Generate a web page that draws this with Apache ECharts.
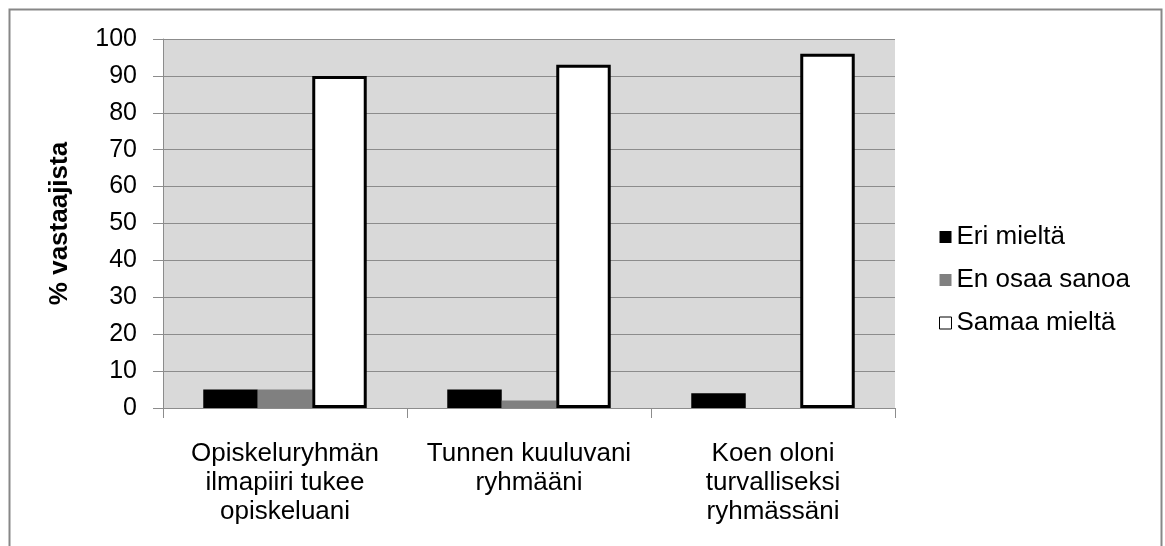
<!DOCTYPE html>
<html>
<head>
<meta charset="utf-8">
<script src="https://cdn.jsdelivr.net/npm/echarts@6/dist/echarts.min.js"></script>
<style>
  html, body { margin: 0; padding: 0; background: #fff; }
  #chart { width: 1165px; height: 546px; }
</style>
</head>
<body>
<div id="chart"></div>
<script>
// kategoriat ja sarjat
let categories = ['Opiskeluryhmän\nilmapiiri tukee\nopiskeluani', 'Tunnen kuuluvani\nryhmääni', 'Koen oloni\nturvalliseksi\nryhmässäni'];
let seriesNames = ['Eri mieltä', 'En osaa sanoa', 'Samaa mieltä'];
let eriMielta = [5, 5, 4];
let enOsaaSanoa = [5, 2, 0];
let samaaMielta = [90, 93, 96];

let fontFamily = '"Liberation Sans", Arial, sans-serif';

let chart = echarts.init(document.getElementById('chart'));

function makeBar(name, data, style) {
    return {
        type: 'bar',
        name: name,
        data: data,
        barGap: '0%',
        barCategoryGap: '33%',
        itemStyle: style
    };
}

let option = {
    animation: false,
    textStyle: {fontFamily: fontFamily},
    graphic: [{
        type: 'rect',
        shape: {x: 9.5, y: 9.5, width: 1152, height: 545},
        style: {fill: 'none', stroke: '#878787', lineWidth: 2}
    }],
    grid: {
        left: 163,
        top: 39,
        right: 270,
        bottom: 138,
        show: true,
        backgroundColor: '#d9d9d9',
        borderWidth: 0
    },
    legend: {
        orient: 'vertical',
        left: 939,
        top: 224,
        padding: 0,
        itemWidth: 12,
        itemHeight: 12,
        itemGap: 17,
        icon: 'rect',
        textStyle: {fontSize: 26, color: '#000', fontFamily: fontFamily},
        data: [
            {name: 'Eri mieltä'},
            {name: 'En osaa sanoa'},
            {name: 'Samaa mieltä', itemStyle: {borderWidth: 1, borderColor: '#000'}}
        ]
    },
    xAxis: {
        type: 'category',
        data: categories,
        axisLine: {lineStyle: {color: '#8c8c8c', width: 1}},
        axisTick: {show: true, length: 10, lineStyle: {color: '#8c8c8c'}},
        axisLabel: {
            fontSize: 26,
            color: '#000',
            lineHeight: 29,
            margin: 31,
            interval: 0,
            fontFamily: fontFamily
        }
    },
    yAxis: {
        type: 'value',
        min: 0,
        max: 100,
        interval: 10,
        name: '% vastaajista',
        nameLocation: 'middle',
        nameGap: 90,
        nameTextStyle: {fontSize: 26, fontWeight: 'bold', color: '#000', fontFamily: fontFamily},
        axisLine: {show: true, lineStyle: {color: '#8c8c8c', width: 1}},
        axisTick: {show: true, length: 10, lineStyle: {color: '#8c8c8c'}},
        axisLabel: {fontSize: 25, color: '#000', margin: 26, fontFamily: fontFamily},
        splitLine: {show: true, lineStyle: {color: '#8c8c8c', width: 1}}
    },
    series: [
        makeBar(seriesNames[0], eriMielta, {color: '#000000'}),
        makeBar(seriesNames[1], enOsaaSanoa, {color: '#808080'}),
        makeBar(seriesNames[2], samaaMielta, {color: '#ffffff', borderColor: '#000000', borderWidth: 3})
    ]
};

chart.setOption(option);
</script>
</body>
</html>
